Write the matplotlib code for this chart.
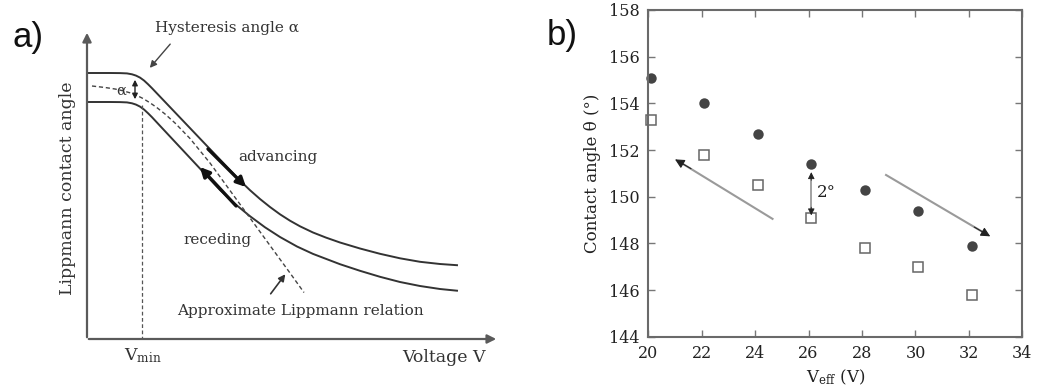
import matplotlib
matplotlib.use('Agg')
import matplotlib.pyplot as plt

plt.rcParams['font.family'] = ['DejaVu Serif']
plt.rcParams['mathtext.fontset'] = 'dejavuserif'

# --- panel b: measured contact angles ---
v_eff = [20.1, 22.1, 24.1, 26.1, 28.1, 30.1, 32.1]
theta_adv = [155.1, 154.0, 152.7, 151.4, 150.3, 149.4, 147.9]
theta_rec = [153.3, 151.8, 150.5, 149.1, 147.8, 147.0, 145.8]
x_ticks = [20, 22, 24, 26, 28, 30, 32, 34]
y_ticks = [144, 146, 148, 150, 152, 154, 156, 158]

# --- panel a: schematic curves (sketch units, y grows downwards) ---
adv_x = [87, 110, 120, 127, 132, 136, 140, 144, 148, 152, 160, 180, 200, 220, 240,
         250, 260, 270, 280, 290, 300, 313, 326, 340, 360, 380, 400, 420, 440, 457]
adv_y = [73, 73, 73.1, 73.4, 74.3, 75.6, 77.6, 80.5, 84.2, 88.2, 96.6, 117.6, 138.6,
         159.6, 180.6, 190.2, 199, 207, 214.3, 220.7, 226.3, 232.5, 237.6, 242.5,
         248.5, 253.8, 258.3, 261.8, 264, 265.2]
rec_x = [87, 110, 120, 127, 132, 136, 140, 144, 148, 152, 160, 180, 200, 220, 235,
         250, 265, 280, 297, 313, 340, 360, 380, 400, 420, 440, 457]
rec_y = [102, 102, 102.1, 102.4, 103.3, 104.6, 106.6, 109.5, 113.2, 117.2, 125.8,
         147.2, 168.6, 190, 203.9, 216.2, 227.3, 237, 246.5, 253.9, 264.2, 270.8,
         276.8, 282, 286, 289, 290.7]
lipp_x = [92, 105, 115, 123, 130, 137, 143, 150, 157, 165, 175, 190, 210, 230, 250,
          270, 290, 304]
lipp_y = [86, 87.5, 89, 90.8, 92.8, 95.5, 98.5, 102.8, 107.7, 114, 123, 138.5, 163,
          190.5, 218, 245.5, 273, 292.5]

fig = plt.figure(figsize=(10.37, 3.92), dpi=100)

# ---------------- panel a ----------------
ax_a = fig.add_axes([0, 0, 540 / 1037, 1])
ax_a.set_xlim(0, 540)
ax_a.set_ylim(392, 0)
ax_a.axis('off')

ink = '#333333'
axis_col = '#5a5a5a'

# axes with arrows
ax_a.annotate('', xy=(87, 30), xytext=(87, 340),
              arrowprops=dict(arrowstyle='-|>', color=axis_col, lw=1.6, mutation_scale=13))
ax_a.annotate('', xy=(499, 339), xytext=(86, 339),
              arrowprops=dict(arrowstyle='-|>', color=axis_col, lw=1.6, mutation_scale=13))

ax_a.plot(adv_x, adv_y, color=ink, lw=1.4, solid_joinstyle='round')
ax_a.plot(rec_x, rec_y, color=ink, lw=1.4, solid_joinstyle='round')
ax_a.plot(lipp_x, lipp_y, color='#444444', lw=1.0, dashes=(3, 2))

# V_min marker line
ax_a.plot([141.5, 141.5], [105, 339], color='#555555', lw=0.9, dashes=(3, 2))

# hysteresis double arrow
ax_a.annotate('', xy=(135, 77), xytext=(135, 102),
              arrowprops=dict(arrowstyle='<|-|>', color='#222222', lw=1.0, mutation_scale=8))
ax_a.text(121, 91, 'α', fontsize=10.5, color=ink, ha='center', va='center')

# advancing / receding arrows
ax_a.annotate('', xy=(248, 189), xytext=(206, 147),
              arrowprops=dict(arrowstyle='-|>', color='#111111', lw=2.4, mutation_scale=14))
ax_a.annotate('', xy=(198, 165), xytext=(238, 208),
              arrowprops=dict(arrowstyle='-|>', color='#111111', lw=2.4, mutation_scale=14))

# pointers
ax_a.annotate('', xy=(148, 70), xytext=(172, 42),
              arrowprops=dict(arrowstyle='-|>', color='#444444', lw=1.0, mutation_scale=10))
ax_a.annotate('', xy=(287, 272), xytext=(269, 296),
              arrowprops=dict(arrowstyle='-|>', color='#333333', lw=1.2, mutation_scale=10))

fs = 11
ax_a.text(227, 28, 'Hysteresis angle α', fontsize=fs, color=ink, ha='center', va='center')
ax_a.text(278, 157, 'advancing', fontsize=fs, color=ink, ha='center', va='center')
ax_a.text(218, 240, 'receding', fontsize=fs, color=ink, ha='center', va='center')
ax_a.text(300, 311, 'Approximate Lippmann relation', fontsize=fs, color=ink,
          ha='center', va='center')
ax_a.text(444, 357, 'Voltage V', fontsize=12.5, color=ink, ha='center', va='center')
ax_a.text(143, 356, r'V$_{\rm min}$', fontsize=12.5, color=ink, ha='center', va='center')
ax_a.text(67, 188, 'Lippmann contact angle', fontsize=12.5, color=ink, ha='center',
          va='center', rotation=90)

fig.text(13 / 1037, 1 - 47 / 392, 'a)', fontsize=25, family='Liberation Sans',
         color='#111111', ha='left', va='baseline')

# ---------------- panel b ----------------
ax_b = fig.add_axes([648.3 / 1037, 1 - 336.7 / 392, (1022.3 - 648.3) / 1037,
                     (336.7 - 10) / 392])
ax_b.plot(v_eff, theta_adv, 'o', color='#444444', markersize=7.5, markeredgewidth=0,
          clip_on=False)
ax_b.plot(v_eff, theta_rec, 's', mfc='white', mec='#666666', markersize=7,
          markeredgewidth=1.1, clip_on=False)

ax_b.set_xlim(20, 34)
ax_b.set_ylim(144, 158)
ax_b.set_xticks(x_ticks)
ax_b.set_yticks(y_ticks)
ax_b.tick_params(direction='in', top=True, right=True, length=5, width=1,
                 color='#777777', labelcolor='#222222', labelsize=11.5, pad=6)
for sp in ax_b.spines.values():
    sp.set_color('#6a6a6a')
    sp.set_linewidth(1.5)

ax_b.set_xlabel(r'V$_{\rm eff}$ (V)', fontsize=12, color='#222222', labelpad=4)
ax_b.set_ylabel('Contact angle θ (°)', fontsize=12, color='#222222', labelpad=6)

# trend arrows: gray shafts, black heads
shaft = '#9a9a9a'
head = dict(arrowstyle='-|>', color='#222222', lw=0.8, mutation_scale=14,
            shrinkA=0, shrinkB=0)
ax_b.plot([24.65, 21.3], [149.05, 151.4], color=shaft, lw=1.5)
ax_b.annotate('', xy=(21.0, 151.6), xytext=(21.6, 151.2), arrowprops=head)
ax_b.plot([28.9, 32.5], [150.93, 148.5], color=shaft, lw=1.5)
ax_b.annotate('', xy=(32.8, 148.3), xytext=(32.2, 148.7), arrowprops=head)

ax_b.plot([26.1, 26.1], [149.5, 150.75], color=shaft, lw=1.3)
small_head = dict(arrowstyle='-|>', color='#222222', lw=0.6, mutation_scale=10,
                  shrinkA=0, shrinkB=0)
ax_b.annotate('', xy=(26.1, 151.05), xytext=(26.1, 150.7), arrowprops=small_head)
ax_b.annotate('', xy=(26.1, 149.2), xytext=(26.1, 149.55), arrowprops=small_head)
ax_b.text(26.3, 150.2, '2°', fontsize=12, color='#222222', ha='left', va='center')

fig.text(547 / 1037, 1 - 45 / 392, 'b)', fontsize=25, family='Liberation Sans',
         color='#111111', ha='left', va='baseline')

fig.savefig('out.png', dpi=100, facecolor='white')
